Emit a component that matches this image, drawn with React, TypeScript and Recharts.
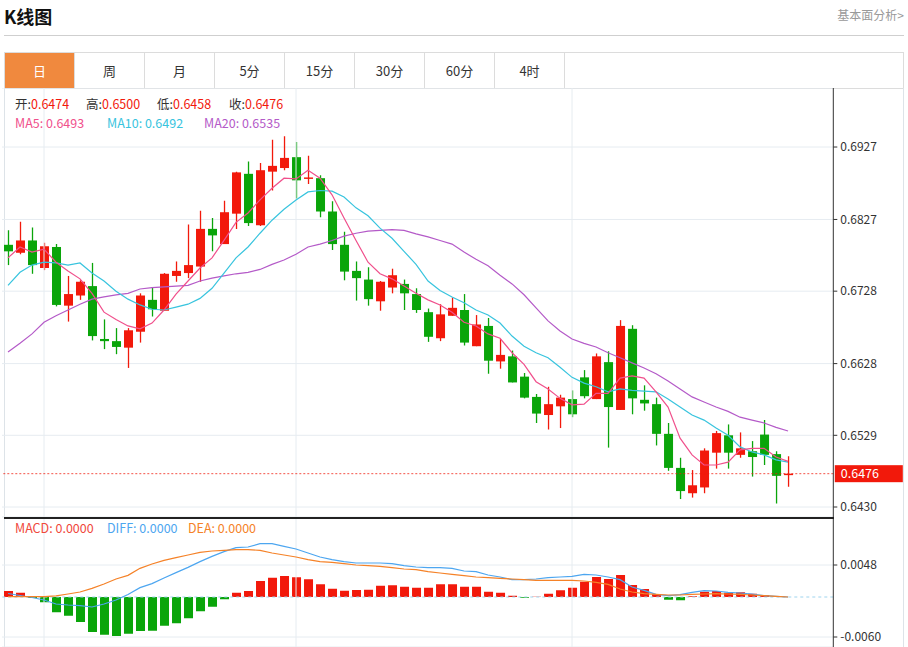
import React from "react"
import { ComposedChart, Bar, Line, XAxis, YAxis, CartesianGrid, ReferenceLine, Cell } from "recharts"

const tabs = ["日", "周", "月", "5分", "15分", "30分", "60分", "4时"]

const opens = [
  0.6792, 0.6781, 0.6798, 0.6760, 0.6789, 0.6708, 0.6722, 0.6735, 0.6662, 0.6659,
  0.6650, 0.6672, 0.6716, 0.6701, 0.6749, 0.6753, 0.6762, 0.6814, 0.6793, 0.6835,
  0.6890, 0.6819, 0.6893, 0.6898, 0.6913, 0.6883, 0.6884, 0.6838, 0.6792, 0.6756,
  0.6744, 0.6714, 0.6733, 0.6738, 0.6724, 0.6699, 0.6663, 0.6694, 0.6702, 0.6652,
  0.6680, 0.6631, 0.6638, 0.6610, 0.6582, 0.6557, 0.6569, 0.6579, 0.6609, 0.6579,
  0.6630, 0.6564, 0.6676, 0.6578, 0.6572, 0.6531, 0.6484, 0.6449, 0.6457, 0.6505,
  0.6529, 0.6502, 0.6507, 0.6530, 0.6503, 0.6474,
]
const highs = [
  0.6812, 0.6824, 0.6816, 0.6795, 0.6793, 0.6749, 0.6743, 0.6767, 0.6689, 0.6677,
  0.6677, 0.6725, 0.6733, 0.6753, 0.6769, 0.6820, 0.6839, 0.6829, 0.6853, 0.6893,
  0.6907, 0.6905, 0.6937, 0.6942, 0.6934, 0.6915, 0.6888, 0.6852, 0.6810, 0.6769,
  0.6761, 0.6742, 0.6759, 0.6744, 0.6732, 0.6704, 0.6710, 0.6719, 0.6724, 0.6695,
  0.6691, 0.6662, 0.6646, 0.6615, 0.6586, 0.6596, 0.6585, 0.6591, 0.6619, 0.6642,
  0.6645, 0.6688, 0.6681, 0.6598, 0.6581, 0.6546, 0.6498, 0.6481, 0.6511, 0.6535,
  0.6544, 0.6533, 0.6521, 0.6550, 0.6507, 0.6500,
]
const lows = [
  0.6764, 0.6779, 0.6752, 0.6757, 0.6707, 0.6686, 0.6716, 0.6660, 0.6648, 0.6641,
  0.6622, 0.6657, 0.6693, 0.6701, 0.6741, 0.6746, 0.6741, 0.6783, 0.6793, 0.6814,
  0.6818, 0.6818, 0.6867, 0.6895, 0.6856, 0.6876, 0.6830, 0.6785, 0.6743, 0.6715,
  0.6708, 0.6701, 0.6725, 0.6702, 0.6698, 0.6658, 0.6659, 0.6694, 0.6653, 0.6652,
  0.6614, 0.6621, 0.6602, 0.6580, 0.6546, 0.6537, 0.6539, 0.6554, 0.6580, 0.6579,
  0.6512, 0.6564, 0.6558, 0.6563, 0.6515, 0.6480, 0.6441, 0.6443, 0.6449, 0.6483,
  0.6483, 0.6498, 0.6472, 0.6488, 0.6435, 0.6458,
]
const closes = [
  0.6783, 0.6798, 0.6764, 0.6790, 0.6709, 0.6724, 0.6741, 0.6666, 0.6659, 0.6651,
  0.6674, 0.6722, 0.6703, 0.6752, 0.6756, 0.6764, 0.6814, 0.6805, 0.6837, 0.6892,
  0.6822, 0.6895, 0.6901, 0.6912, 0.6881, 0.6885, 0.6838, 0.6793, 0.6755, 0.6746,
  0.6717, 0.6741, 0.6750, 0.6725, 0.6702, 0.6665, 0.6696, 0.6705, 0.6657, 0.6682,
  0.6632, 0.6640, 0.6602, 0.6581, 0.6559, 0.6572, 0.6581, 0.6558, 0.6583, 0.6638,
  0.6568, 0.6680, 0.6580, 0.6573, 0.6531, 0.6484, 0.6452, 0.6460, 0.6508, 0.6532,
  0.6505, 0.6511, 0.6499, 0.6502, 0.6473, 0.6476,
]
const ma5 = [
  0.6774, 0.6789, 0.6782, 0.6786, 0.6768, 0.6756, 0.6745, 0.6725, 0.6699, 0.6689,
  0.6680, 0.6676, 0.6684, 0.6702, 0.6724, 0.6742, 0.6760, 0.6774, 0.6798, 0.6823,
  0.6836, 0.6854, 0.6870, 0.6884, 0.6883, 0.6895, 0.6884, 0.6861, 0.6829, 0.6798,
  0.6768, 0.6752, 0.6745, 0.6735, 0.6725, 0.6716, 0.6709, 0.6699, 0.6685, 0.6680,
  0.6669, 0.6663, 0.6643, 0.6627, 0.6603, 0.6593, 0.6580, 0.6571, 0.6572, 0.6587,
  0.6587, 0.6608, 0.6611, 0.6608, 0.6589, 0.6568, 0.6525, 0.6502, 0.6488, 0.6488,
  0.6492, 0.6509, 0.6511, 0.6511, 0.6499, 0.6493,
]
const ma10 = [
  0.6736, 0.6754, 0.6764, 0.6768, 0.6767, 0.6764, 0.6767, 0.6753, 0.6742, 0.6728,
  0.6717, 0.6709, 0.6703, 0.6702, 0.6706, 0.6710, 0.6718, 0.6732, 0.6753, 0.6774,
  0.6789, 0.6808, 0.6826, 0.6841, 0.6854, 0.6865, 0.6867, 0.6866, 0.6858, 0.6843,
  0.6832, 0.6815, 0.6801, 0.6783, 0.6765, 0.6742, 0.6729, 0.6720, 0.6712, 0.6702,
  0.6695, 0.6684, 0.6666, 0.6652, 0.6643, 0.6636, 0.6623, 0.6609, 0.6601, 0.6596,
  0.6589, 0.6593, 0.6591, 0.6590, 0.6589, 0.6579, 0.6568, 0.6557, 0.6550, 0.6539,
  0.6529, 0.6513, 0.6506, 0.6502, 0.6495, 0.6492,
]
const ma20 = [
  0.6644, 0.6656, 0.6669, 0.6685, 0.6694, 0.6702, 0.6710, 0.6717, 0.6720, 0.6723,
  0.6725, 0.6731, 0.6733, 0.6734, 0.6735, 0.6736, 0.6742, 0.6746, 0.6749, 0.6752,
  0.6754, 0.6758, 0.6765, 0.6771, 0.6779, 0.6789, 0.6793, 0.6798, 0.6804, 0.6808,
  0.6811, 0.6812, 0.6813, 0.6812, 0.6807, 0.6803, 0.6798, 0.6793, 0.6782, 0.6772,
  0.6763, 0.6750, 0.6738, 0.6723, 0.6705, 0.6687, 0.6673, 0.6662, 0.6656, 0.6651,
  0.6643, 0.6636, 0.6629, 0.6622, 0.6614, 0.6604, 0.6593, 0.6582, 0.6575, 0.6568,
  0.6562, 0.6554, 0.6550, 0.6546, 0.6540, 0.6535,
]
const macd = [
  0.0009, 0.00065, -0.00015, -0.0008, -0.0023, -0.0028, -0.00375, -0.00525, -0.00565, -0.00585,
  -0.0055, -0.0051, -0.00505, -0.0043, -0.00395, -0.0032, -0.00215, -0.00145, -0.00035, 0.00065,
  0.0009, 0.0024, 0.0029, 0.00315, 0.00295, 0.00265, 0.0019, 0.00125, 0.00095, 0.00105,
  0.0011, 0.0017, 0.00175, 0.00155, 0.0014, 0.0014, 0.0019, 0.0019, 0.00155, 0.00155,
  0.0008, 0.00065, 0.0002, -0.0001, 0.00003, 0.0005, 0.001, 0.0014, 0.0023, 0.003,
  0.0027, 0.0033, 0.0018, 0.0012, 0.0004, -0.0004, -0.0005, 0.0001, 0.0008, 0.0009,
  0.00065, 0.0007, 0.0005, 0.0003, 0.00005, 0,
]
const diff = [
  0.000525, 0.000225, -0.000075, -0.00045, -0.00105, -0.0012, -0.0013, -0.0015, -0.00105, -0.00045,
  0.000375, 0.0014, 0.002, 0.00285, 0.00365, 0.00445, 0.0053, 0.0061, 0.0068, 0.0074,
  0.0075, 0.008, 0.008, 0.0076, 0.0072, 0.0066, 0.006, 0.0056, 0.0053, 0.0051,
  0.0051, 0.0051, 0.005, 0.0047, 0.0045, 0.0044, 0.0044, 0.0043, 0.0039, 0.0038,
  0.0033, 0.003, 0.0026, 0.0026, 0.0027, 0.0029, 0.003, 0.0031, 0.0034, 0.0033,
  0.003, 0.0026, 0.0015, 0.001, 0.0004, 0.0002, 0.00035, 0.0007, 0.00095, 0.0009,
  0.0007, 0.0006, 0.00045, 0.0002, 0.0001, 0,
]
const dea = [
  0.00005, 0.00005, 0.00005, 0.00005, 0.00018, 0.00045, 0.00075, 0.0013, 0.00195, 0.0027,
  0.00325, 0.0043, 0.00495, 0.0055, 0.0059, 0.0063, 0.0067, 0.0069, 0.007, 0.0071,
  0.0071, 0.007, 0.0066, 0.0063, 0.006, 0.0056, 0.0053, 0.0052, 0.005, 0.0048,
  0.0047, 0.0046, 0.0044, 0.0042, 0.0041, 0.0038, 0.0036, 0.0034, 0.0032, 0.003,
  0.0029, 0.0028, 0.0027, 0.0026, 0.0025, 0.0025, 0.0025, 0.0025, 0.0024, 0.0022,
  0.0019, 0.0012, 0.00075, 0.0005, 0.0004, 0.0003, 0.0003, 0.0004, 0.00045, 0.0005,
  0.00045, 0.0004, 0.0003, 0.0002, 0.0001, 0,
]

const priceTicks = [0.643, 0.6529, 0.6628, 0.6728, 0.6827, 0.6927]
const macdTicks = [0.0048, -0.006]
// candle index where the vertical grid lines sit (period starts)
const periodStarts = [3, 24, 47]

const UP = "#f2190b"
const DOWN = "#0aa50a"
const C_MA5 = "#f0508c"
const C_MA10 = "#38c4de"
const C_MA20 = "#b45ac8"
const C_DIFF = "#4da6f0"
const C_DEA = "#f58228"
const GRID = "#e6ecf1"
const FONT = '"Microsoft YaHei", "Noto Sans CJK SC", sans-serif'

const data = opens.map((open, i) => ({
  i,
  open,
  high: highs[i],
  low: lows[i],
  close: closes[i],
  ma5: ma5[i],
  ma10: ma10[i],
  ma20: ma20[i],
  macd: macd[i],
  diff: diff[i],
  dea: dea[i],
}))

const last = data[data.length - 1]

function Candle(props: any) {
  const { x, y, width, height, payload } = props
  if (!payload) return null
  const top = Math.min(y, y + height)
  const h = Math.abs(height)
  const { open, close, high, low } = payload
  const k = h / (high - low || 1)
  const yOpen = top + (high - open) * k
  const yClose = top + (high - close) * k
  const color = close >= open ? UP : DOWN
  const cx = x + width / 2
  const bodyTop = Math.min(yOpen, yClose)
  const bodyH = Math.max(Math.abs(yClose - yOpen), 1.2)
  return (
    <g>
      <line x1={cx} x2={cx} y1={top} y2={top + h} stroke={color} strokeWidth={1.3} />
      <rect x={x} y={bodyTop} width={width} height={bodyH} fill={color} />
    </g>
  )
}

function LastPriceLabel(props: any) {
  const { x, y, width } = props.viewBox
  return (
    <g>
      <rect x={x + width + 1.5} y={y - 8.5} width={68} height={17} fill={UP} />
      <text x={x + width + 7.5} y={y + 4.5} fill="#fff" fontSize={12.5} fontFamily={FONT}>
        {last.close.toFixed(4)}
      </text>
    </g>
  )
}

const xDomain = [-0.5, 68.77]
const margin = { top: 0, right: 4.7, bottom: 0, left: 2 }
const tickStyle = { fill: "#333", fontSize: 12, fontFamily: FONT }

function Legend({ top, items }: { top: number; items: Array<{ x: number; label: string; value: string; lc: string; vc: string }> }) {
  return (
    <>
      {items.map((it) => (
        <div
          key={it.label}
          style={{ position: "absolute", left: it.x, top, fontSize: 12.5, lineHeight: "14px", whiteSpace: "nowrap" }}
        >
          <span style={{ color: it.lc }}>{it.label}</span>
          <span style={{ color: it.vc }}>{it.value}</span>
        </div>
      ))}
    </>
  )
}

export default function App() {
  return (
    <div style={{ position: "absolute", left: 0, top: 0, width: 908, height: 647, background: "#fff", overflow: "hidden", fontFamily: FONT }}>
      <div style={{ position: "absolute", left: 4, top: 5, fontSize: 18, fontWeight: "bold", color: "#111", lineHeight: "22px" }}>K线图</div>
      <div style={{ position: "absolute", right: 4, top: 7, fontSize: 12, color: "#999", lineHeight: "16px" }}>基本面分析&gt;</div>
      <div style={{ position: "absolute", left: 4, top: 35, width: 900, height: 1, background: "#cfcfcf" }} />

      {/* tab bar */}
      <div style={{ position: "absolute", left: 4, top: 52, width: 898, height: 35, border: "1px solid #dcdcdc", display: "flex" }}>
        {tabs.map((t, i) => (
          <div
            key={t}
            style={{
              width: 70,
              height: 35,
              borderRight: "1px solid #dcdcdc",
              boxSizing: "border-box",
              background: i === 0 ? "#f0893e" : "#fff",
              color: i === 0 ? "#fff" : "#333",
              fontSize: 13,
              lineHeight: "35px",
              textAlign: "center",
            }}
          >
            {t}
          </div>
        ))}
      </div>

      {/* panel borders */}
      <div style={{ position: "absolute", left: 4, top: 88, width: 1, height: 560, background: "#dde3e8" }} />
      <div style={{ position: "absolute", left: 903, top: 88, width: 1, height: 560, background: "#dde3e8" }} />

      <div style={{ position: "absolute", left: 0, top: 88 }}>
        <ComposedChart width={908} height={429} data={data} margin={margin}>
          <CartesianGrid horizontal vertical={false} stroke={GRID} />
          <XAxis dataKey="i" type="number" domain={xDomain} allowDataOverflow hide />
          <YAxis
            orientation="right"
            type="number"
            domain={[0.64162, 0.70085]}
            allowDataOverflow
            ticks={priceTicks}
            tickFormatter={(v: number) => v.toFixed(4)}
            width={70}
            tick={tickStyle}
            tickSize={4}
            tickMargin={3}
            axisLine={{ stroke: "#333" }}
            tickLine={{ stroke: "#333" }}
          />
          {periodStarts.map((p) => (
            <ReferenceLine key={p} x={p} stroke={GRID} />
          ))}
          <Bar
            dataKey={(d: any) => [d.low, d.high]}
            barSize={9}
            shape={(p: any) => <Candle {...p} />}
            isAnimationActive={false}
          />
          <Line type="linear" dataKey="ma20" stroke={C_MA20} strokeWidth={1.2} dot={false} isAnimationActive={false} />
          <Line type="linear" dataKey="ma10" stroke={C_MA10} strokeWidth={1.2} dot={false} isAnimationActive={false} />
          <Line type="linear" dataKey="ma5" stroke={C_MA5} strokeWidth={1.2} dot={false} isAnimationActive={false} />
          <ReferenceLine
            y={last.close}
            stroke={UP}
            strokeOpacity={0.75}
            strokeDasharray="2 2"
            label={(p: any) => <LastPriceLabel {...p} />}
          />
        </ComposedChart>
      </div>

      <Legend
        top={97}
        items={[
          { x: 15, label: "开:", value: last.open.toFixed(4), lc: "#333", vc: UP },
          { x: 86, label: "高:", value: last.high.toFixed(4), lc: "#333", vc: UP },
          { x: 157, label: "低:", value: last.low.toFixed(4), lc: "#333", vc: UP },
          { x: 229, label: "收:", value: last.close.toFixed(4), lc: "#333", vc: UP },
        ]}
      />
      <Legend
        top={116}
        items={[
          { x: 15, label: "MA5: ", value: last.ma5.toFixed(4), lc: C_MA5, vc: C_MA5 },
          { x: 107, label: "MA10: ", value: last.ma10.toFixed(4), lc: C_MA10, vc: C_MA10 },
          { x: 204, label: "MA20: ", value: last.ma20.toFixed(4), lc: C_MA20, vc: C_MA20 },
        ]}
      />

      <div style={{ position: "absolute", left: 0, top: 517 }}>
        <ComposedChart width={908} height={130} data={data} margin={margin}>
          <CartesianGrid horizontal vertical={false} stroke={GRID} />
          <XAxis dataKey="i" type="number" domain={xDomain} allowDataOverflow hide />
          <YAxis
            orientation="right"
            type="number"
            domain={[-0.0075, 0.012]}
            allowDataOverflow
            ticks={macdTicks}
            tickFormatter={(v: number) => v.toFixed(4)}
            width={70}
            tick={tickStyle}
            tickSize={4}
            tickMargin={3}
            axisLine={{ stroke: "#333" }}
            tickLine={{ stroke: "#333" }}
          />
          {periodStarts.map((p) => (
            <ReferenceLine key={p} x={p} stroke={GRID} />
          ))}
          <ReferenceLine y={0} stroke="#9fd4ee" strokeDasharray="3 3" />
          <Bar dataKey="macd" barSize={9} isAnimationActive={false}>
            {data.map((d) => (
              <Cell key={d.i} fill={d.macd >= 0 ? UP : DOWN} />
            ))}
          </Bar>
          <Line type="linear" dataKey="diff" stroke={C_DIFF} strokeWidth={1.2} dot={false} isAnimationActive={false} />
          <Line type="linear" dataKey="dea" stroke={C_DEA} strokeWidth={1.2} dot={false} isAnimationActive={false} />
        </ComposedChart>
      </div>

      <div style={{ position: "absolute", left: 4, top: 517, width: 830, height: 1.5, background: "#222" }} />

      <Legend
        top={521}
        items={[
          { x: 15, label: "MACD: ", value: "0.0000", lc: "#f0483c", vc: "#f0483c" },
          { x: 107, label: "DIFF: ", value: "0.0000", lc: C_DIFF, vc: C_DIFF },
          { x: 188, label: "DEA: ", value: "0.0000", lc: C_DEA, vc: C_DEA },
        ]}
      />
    </div>
  )
}
